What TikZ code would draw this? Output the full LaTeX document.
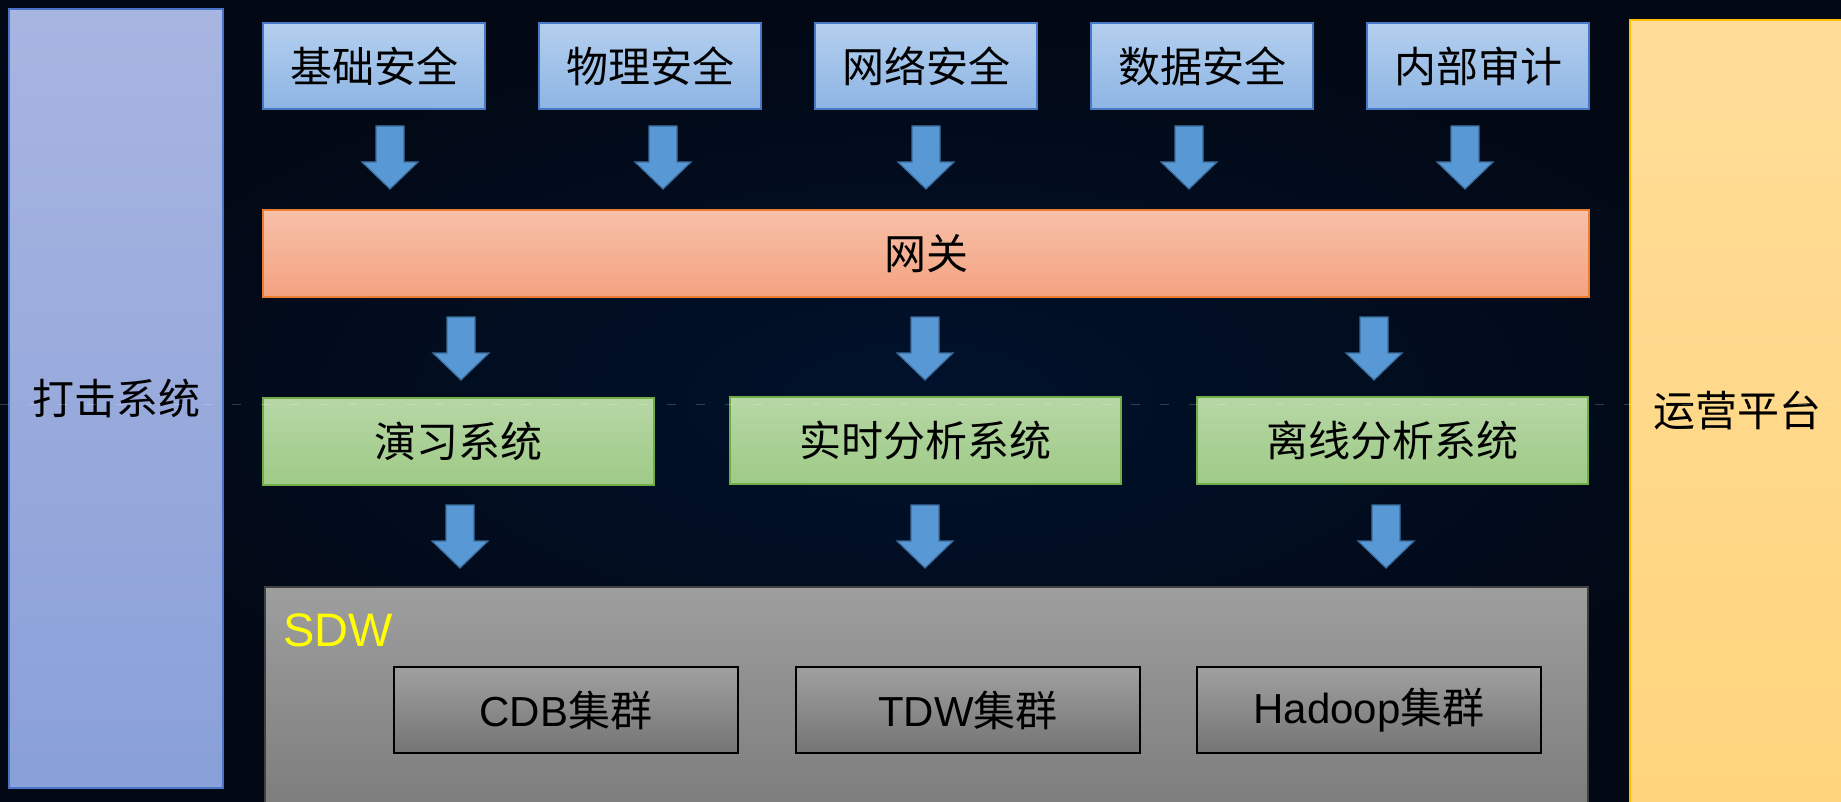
\documentclass[tikz,border=0pt]{standalone}
\usepackage{fontspec}
\setmainfont{Liberation Sans}
\newfontfamily\cjk{Noto Sans CJK SC}
\definecolor{bgin}{RGB}{1,18,44}
\definecolor{bgout}{RGB}{2,8,20}
\definecolor{lbTop}{RGB}{168,181,225}
\definecolor{lbBot}{RGB}{137,160,216}
\definecolor{lbLine}{RGB}{75,115,200}
\definecolor{tbTop}{RGB}{180,207,238}
\definecolor{tbBot}{RGB}{141,181,228}
\definecolor{tbLine}{RGB}{70,120,195}
\definecolor{arFill}{RGB}{88,152,212}
\definecolor{arLine}{RGB}{60,108,155}
\definecolor{gwTop}{RGB}{247,192,168}
\definecolor{gwBot}{RGB}{244,162,128}
\definecolor{gwLine}{RGB}{235,125,50}
\definecolor{grTop}{RGB}{183,215,166}
\definecolor{grBot}{RGB}{158,202,134}
\definecolor{grLine}{RGB}{112,173,71}
\definecolor{gyTop}{RGB}{158,158,158}
\definecolor{gyBot}{RGB}{122,122,122}
\definecolor{inTop}{RGB}{160,160,160}
\definecolor{inBot}{RGB}{116,116,116}
\definecolor{ylTop}{RGB}{255,221,152}
\definecolor{ylBot}{RGB}{255,212,124}
\definecolor{ylLine}{RGB}{255,192,0}
\definecolor{sdwYellow}{RGB}{255,255,0}
\begin{document}
\begin{tikzpicture}[x=1pt,y=-1pt,
  box/.style={rectangle, inner sep=0pt, outer sep=0pt, anchor=north west,
    line width=1.2pt, text=black, font=\cjk\fontsize{42}{48}\selectfont},
  sidebox/.style={box, draw=lbLine, top color=lbTop, bottom color=lbBot},
  opbox/.style={box, draw=ylLine, top color=ylTop, bottom color=ylBot},
  secbox/.style={box, draw=tbLine, top color=tbTop, bottom color=tbBot,
    minimum width=222pt, minimum height=86pt},
  gwbox/.style={box, draw=gwLine, top color=gwTop, bottom color=gwBot},
  sysbox/.style={box, draw=grLine, top color=grTop, bottom color=grBot,
    minimum width=391pt, minimum height=87pt},
  sdwbox/.style={box, draw=black!75, top color=gyTop, bottom color=gyBot},
  clbox/.style={box, draw=black, top color=inTop, bottom color=inBot,
    minimum width=344pt, minimum height=86pt, font=\fontsize{42}{48}\selectfont},
  dnarrow/.pic={\filldraw[fill=arFill, draw=arLine, line width=1.2pt, line join=miter]
    (-14,0) -- (14,0) -- (14,36) -- (28,36) -- (0,63) -- (-28,36) -- (-14,36) -- cycle;}
]
\useasboundingbox (0,0) rectangle (1841,802);
\clip (0,0) rectangle (1841,802);
\shade[inner color=bgin, outer color=bgout] (0,0) rectangle (1841,802);

% side columns
\node[sidebox, minimum width=214pt, minimum height=779pt] (strike) at (9,9) {打击系统};
\node[opbox, minimum width=230pt, minimum height=800pt] (ops) at (1630,20) {};
\node[font=\cjk\fontsize{42}{48}\selectfont, text=black] (opsl) at (1737,411) {运营平台};

% security row
\node[secbox] (s1) at (263,23) {基础安全};
\node[secbox] (s2) at (539,23) {物理安全};
\node[secbox] (s3) at (815,23) {网络安全};
\node[secbox] (s4) at (1091,23) {数据安全};
\node[secbox] (s5) at (1367,23) {内部审计};

\pic at (390,126) {dnarrow};
\pic at (663,126) {dnarrow};
\pic at (926,126) {dnarrow};
\pic at (1189,126) {dnarrow};
\pic at (1465,126) {dnarrow};

% gateway
\node[gwbox, minimum width=1326pt, minimum height=87pt] (gw) at (263,210) {网关};

\pic at (461,317) {dnarrow};
\pic at (925,317) {dnarrow};
\pic at (1374,317) {dnarrow};

% systems
\node[sysbox] (g1) at (263,398) {演习系统};
\node[sysbox] (g2) at (730,397) {实时分析系统};
\node[sysbox] (g3) at (1197,397) {离线分析系统};

\pic at (460,505) {dnarrow};
\pic at (925,505) {dnarrow};
\pic at (1386,505) {dnarrow};

% SDW
\node[sdwbox, minimum width=1323pt, minimum height=240pt] (sdw) at (265,587) {};
\node[anchor=west, inner sep=0pt, text=sdwYellow, font=\fontsize{47}{52}\selectfont] (sdwl) at (283,630) {SDW};
\node[clbox] (c1) at (394,667) {CDB{\cjk 集群}};
\node[clbox] (c2) at (796,667) {TDW{\cjk 集群}};
\node[clbox] (c3) at (1197,667) {Hadoop{\cjk 集群}};

% faint dashed guide line
\draw[white, opacity=0.2, line width=0.8pt, dash pattern=on 9pt off 20pt] (0,404) -- (1841,404);
\end{tikzpicture}
\end{document}
